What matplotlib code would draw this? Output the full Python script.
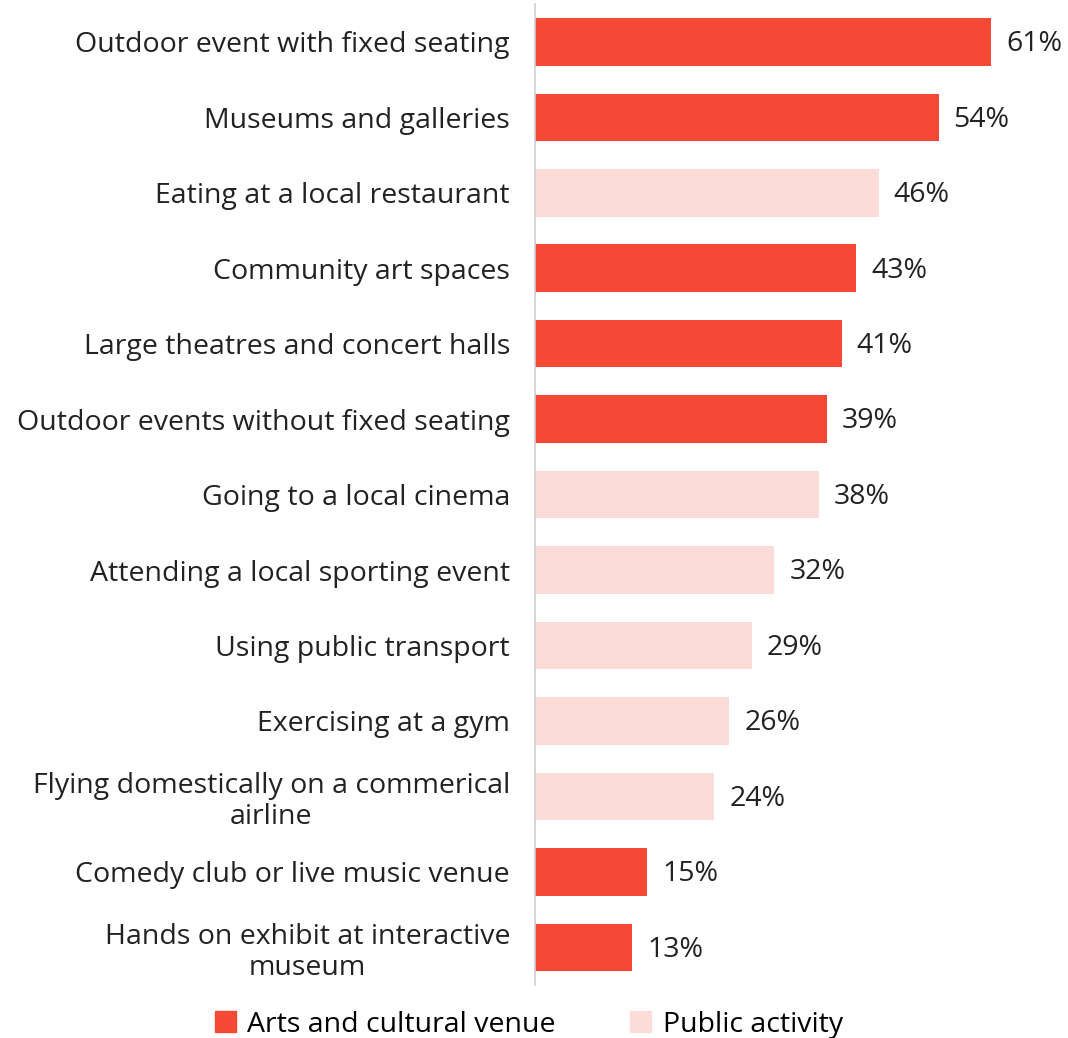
import matplotlib
matplotlib.use("Agg")
import matplotlib.pyplot as plt
from matplotlib.patches import Patch

plt.rcParams['font.family'] = ['Open Sans', 'DejaVu Sans']

# DATA
labels = ["Outdoor event with fixed seating", "Museums and galleries",
          "Eating at a local restaurant", "Community art spaces",
          "Large theatres and concert halls", "Outdoor events without fixed seating",
          "Going to a local cinema", "Attending a local sporting event",
          "Using public transport", "Exercising at a gym",
          "Flying domestically on a commerical\nairline", "Comedy club or live music venue",
          "Hands on exhibit at interactive\nmuseum"]
values = [61, 54, 46, 43, 41, 39, 38, 32, 29, 26, 24, 15, 13]
kinds = ["arts", "arts", "public", "arts", "arts", "arts", "public", "public",
         "public", "public", "public", "arts", "arts"]

DARK = "#F44A35"
LIGHT = "#FCDCD8"
colors = [DARK if k == "arts" else LIGHT for k in kinds]

FS = 20.5

fig = plt.figure(figsize=(10.68, 10.38), dpi=100)
ax = fig.add_axes([0.501, 0.051, 0.499, 0.945])
y = list(range(len(values)))
ax.barh(y, values, height=0.63, color=colors)
for yi, v in zip(y, values):
    ax.text(v + 2, yi + 0.03, f"{v}%", va="center", ha="left", fontsize=FS, color="#222222")
ax.set_yticks(y)
ax.set_yticklabels(labels, fontsize=FS, color="#222222", linespacing=1.15,
                   multialignment="center")
ax.tick_params(axis="y", length=0, pad=18)
ax.set_xticks([])
ax.set_xlim(0, 71.3)
ax.set_ylim(len(values) - 0.5, -0.5)
for s in ["top", "right", "bottom"]:
    ax.spines[s].set_visible(False)
ax.spines["left"].set_color("#D0D0D0")
ax.spines["left"].set_linewidth(1.2)

handles = [Patch(color=DARK, label="Arts and cultural venue"),
           Patch(color=LIGHT, label="Public activity")]
fig.legend(handles=handles, loc="center", bbox_to_anchor=(0.495, 0.013), ncol=2,
           frameon=False, fontsize=FS, handlelength=0.75, handleheight=0.75,
           columnspacing=2.6, handletextpad=0.4)

fig.savefig("out.png", dpi=100)
